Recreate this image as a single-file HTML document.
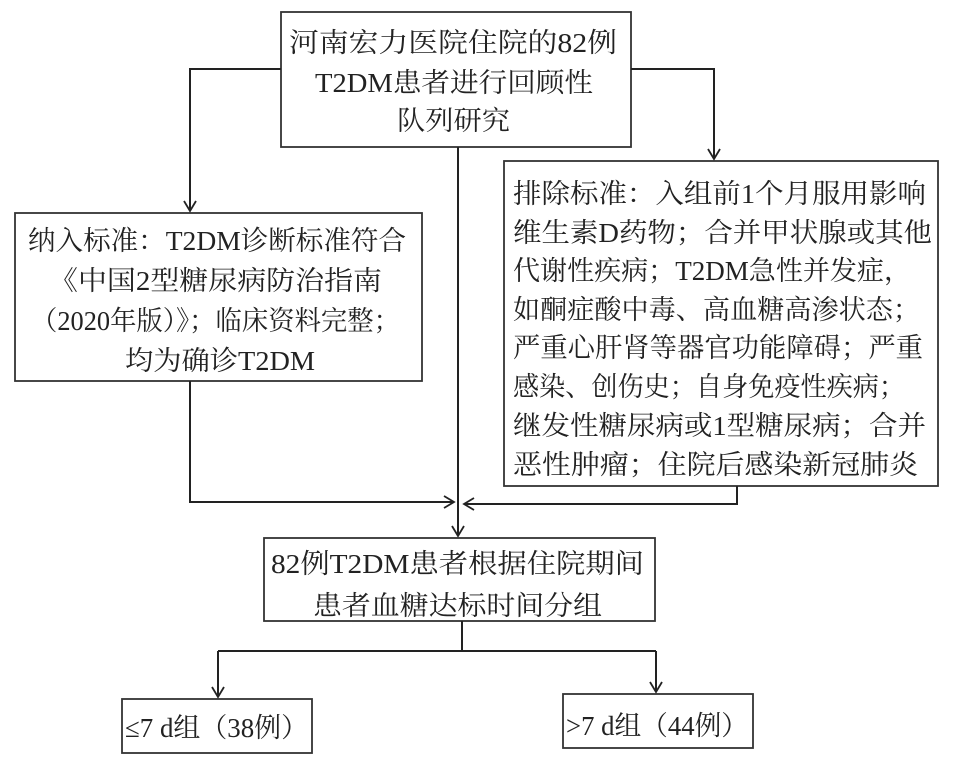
<!DOCTYPE html>
<html><head><meta charset="utf-8"><style>
html,body{margin:0;padding:0;background:#fff;}
svg{display:block;}
text{font-family:"Liberation Serif","Noto Serif CJK SC",serif;font-size:27px;fill:#222;}
</style></head><body>
<svg width="957" height="768" viewBox="0 0 957 768" xmlns="http://www.w3.org/2000/svg">
<defs><marker id="a" markerWidth="14" markerHeight="14" refX="12" refY="7" orient="auto" markerUnits="userSpaceOnUse"><path d="M2,1 L12,7 L2,13" fill="none" stroke="#222" stroke-width="1.8"/></marker></defs>
<g fill="none" stroke="#333" stroke-width="1.8">
<rect x="281" y="12" width="350" height="135"/>
<rect x="15" y="213" width="407" height="168"/>
<rect x="504" y="161" width="434" height="325"/>
<rect x="264" y="538" width="391" height="83"/>
<rect x="122" y="699" width="190" height="54"/>
<rect x="563" y="694" width="190" height="54"/>
</g>
<g fill="none" stroke="#222" stroke-width="2">
<polyline points="281,69 190,69 190,211" marker-end="url(#a)"/>
<polyline points="631,69 714,69 714,159" marker-end="url(#a)"/>
<polyline points="458,147 458,536" marker-end="url(#a)"/>
<polyline points="190,381 190,502 454,502" marker-end="url(#a)"/>
<polyline points="737,486 737,504 464,504" marker-end="url(#a)"/>
<polyline points="462,621 462,651"/>
<polyline points="218,651 656,651"/>
<polyline points="218,651 218,697" marker-end="url(#a)"/>
<polyline points="656,651 656,692" marker-end="url(#a)"/>
</g>
<g>
<text x="289" y="52" textLength="328" lengthAdjust="spacingAndGlyphs">河南宏力医院住院的82例</text>
<text x="315" y="92" textLength="278" lengthAdjust="spacingAndGlyphs">T2DM患者进行回顾性</text>
<text x="397" y="130" textLength="113" lengthAdjust="spacingAndGlyphs">队列研究</text>

<text x="28" y="250" textLength="378" lengthAdjust="spacingAndGlyphs">纳入标准：T2DM诊断标准符合</text>
<text x="49" y="290" textLength="333" lengthAdjust="spacingAndGlyphs">《中国2型糖尿病防治指南</text>
<text x="31" y="330" textLength="369" lengthAdjust="spacingAndGlyphs">（2020年版）》；临床资料完整；</text>
<text x="125" y="370" textLength="190" lengthAdjust="spacingAndGlyphs">均为确诊T2DM</text>

<text x="513" y="203" textLength="413" lengthAdjust="spacingAndGlyphs">排除标准：入组前1个月服用影响</text>
<text x="513" y="242" textLength="419" lengthAdjust="spacingAndGlyphs">维生素D药物；合并甲状腺或其他</text>
<text x="513" y="280" textLength="398" lengthAdjust="spacingAndGlyphs">代谢性疾病；T2DM急性并发症，</text>
<text x="513" y="319" textLength="407" lengthAdjust="spacingAndGlyphs">如酮症酸中毒、高血糖高渗状态；</text>
<text x="513" y="357" textLength="410" lengthAdjust="spacingAndGlyphs">严重心肝肾等器官功能障碍；严重</text>
<text x="513" y="396" textLength="392" lengthAdjust="spacingAndGlyphs">感染、创伤史；自身免疫性疾病；</text>
<text x="513" y="435" textLength="413" lengthAdjust="spacingAndGlyphs">继发性糖尿病或1型糖尿病；合并</text>
<text x="513" y="474" textLength="405" lengthAdjust="spacingAndGlyphs">恶性肿瘤；住院后感染新冠肺炎</text>

<text x="271" y="573" textLength="373" lengthAdjust="spacingAndGlyphs">82例T2DM患者根据住院期间</text>
<text x="313" y="615" textLength="289" lengthAdjust="spacingAndGlyphs">患者血糖达标时间分组</text>

<text x="125" y="737" textLength="183" lengthAdjust="spacingAndGlyphs">≤7 d组（38例）</text>
<text x="566" y="735" textLength="182" lengthAdjust="spacingAndGlyphs">&gt;7 d组（44例）</text>
</g>
</svg>
</body></html>
